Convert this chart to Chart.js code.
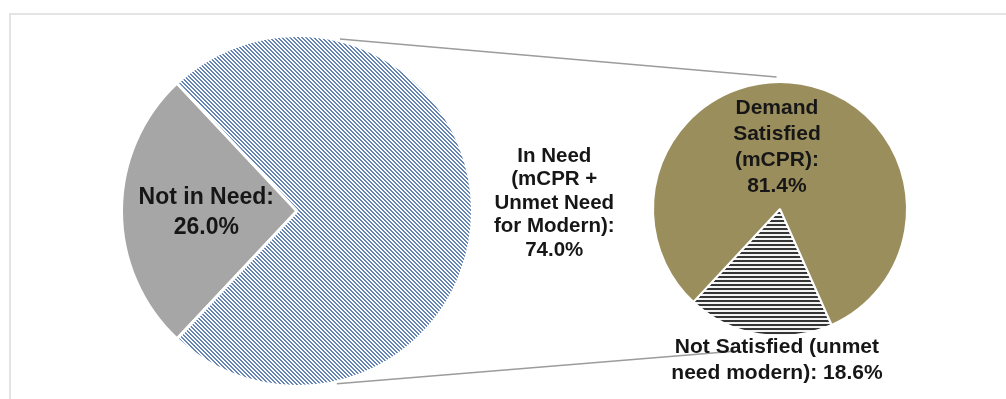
<!DOCTYPE html>
<html>
<head>
<meta charset="utf-8">
<script src="https://cdn.jsdelivr.net/npm/chart.js@4/dist/chart.umd.min.js"></script>
<style>
  html, body { margin: 0; padding: 0; background: #fff; overflow: hidden; }
  #wrap { position: relative; width: 1006px; height: 399px; overflow: hidden; }
  #frame { position: absolute; left: 9px; top: 13px; width: 1100px; height: 500px; border: 2px solid #e4e4e4; box-sizing: border-box; }
  canvas { position: absolute; left: 0; top: 0; }
</style>
</head>
<body>
<div id="wrap">
  <div id="frame"></div>
  <canvas id="bigPie" width="1006" height="399"></canvas>
  <canvas id="smallPie" width="1006" height="399"></canvas>
</div>
<script>
// ---- DATA ----
const bigCategories = ["Not in Need", "In Need (mCPR + Unmet Need for Modern)"];
const bigValues = [26.0, 74.0];
const bigLabelLines = [
  ["Not in Need:", "26.0%"],
  ["In Need", "(mCPR +", "Unmet Need", "for Modern):", "74.0%"]
];
const smallCategories = ["Not Satisfied (unmet need modern)", "Demand Satisfied (mCPR)"];
const smallValues = [18.6, 81.4];
const smallLabelLines = [
  ["Not Satisfied (unmet", "need modern): 18.6%"],
  ["Demand", "Satisfied", "(mCPR):", "81.4%"]
];

// ---- PATTERNS ----
function diagPattern(color) {
  const c = document.createElement('canvas');
  c.width = 4; c.height = 4;
  const x = c.getContext('2d');
  x.fillStyle = '#ffffff'; x.fillRect(0, 0, 4, 4);
  x.fillStyle = color;
  for (let i = 0; i < 4; i++) {
    for (let j = 0; j < 4; j++) {
      const m = ((i - j) % 4 + 4) % 4;
      if (m === 0 || m === 1) x.fillRect(i, j, 1, 1);
    }
  }
  return x.createPattern(c, 'repeat');
}
function horizPattern(color) {
  const c = document.createElement('canvas');
  c.width = 4; c.height = 4;
  const x = c.getContext('2d');
  x.fillStyle = '#f4f4f4'; x.fillRect(0, 0, 4, 4);
  x.fillStyle = color; x.fillRect(0, 0, 4, 2);
  return x.createPattern(c, 'repeat');
}

const FONT = '"Liberation Sans", Arial, sans-serif';
const TEXT_COLOR = '#161616';

function labelPlugin(id, linesArr, place) {
  return {
    id: id,
    afterDatasetsDraw(chart) {
      const arc = chart.getDatasetMeta(0).data[0];
      if (!arc) return;
      const ctx = chart.ctx;
      const cx = arc.x, cy = arc.y, r = arc.outerRadius;
      ctx.save();
      ctx.fillStyle = TEXT_COLOR;
      ctx.textAlign = 'center';
      ctx.textBaseline = 'middle';
      linesArr.forEach((lines, i) => {
        const p = place[i];
        ctx.font = 'bold ' + p.size + 'px ' + FONT;
        const x0 = cx + p.dx * r;
        const y0 = cy + p.dy * r - (lines.length - 1) * p.lh / 2;
        lines.forEach((t, k) => ctx.fillText(t, x0, y0 + k * p.lh));
      });
      ctx.restore();
    }
  };
}

function pt(cx, cy, r, deg) {
  const a = (deg - 90) * Math.PI / 180;
  return { x: cx + r * Math.cos(a), y: cy + r * Math.sin(a) };
}

const connectorPlugin = {
  id: 'connectors',
  beforeDatasetsDraw(chart) {
    const big = Chart.getChart('bigPie');
    if (!big) return;
    const b = big.getDatasetMeta(0).data[0];
    const s = chart.getDatasetMeta(0).data[0];
    const ctx = chart.ctx;
    const segs = [
      [pt(b.x, b.y, b.outerRadius * 1.01, 14), pt(s.x, s.y, s.outerRadius * 1.04, -1.5)],
      [pt(b.x, b.y, b.outerRadius * 1.01, 167), pt(s.x, s.y, s.outerRadius * 1.16, 195.7)]
    ];
    ctx.save();
    ctx.strokeStyle = '#9c9c9c';
    ctx.lineWidth = 1.5;
    segs.forEach(([p, q]) => {
      ctx.beginPath(); ctx.moveTo(p.x, p.y); ctx.lineTo(q.x, q.y); ctx.stroke();
    });
    ctx.restore();
  }
};

const common = {
  responsive: false,
  animation: false,
  events: [],
  plugins: { legend: { display: false }, tooltip: { enabled: false } }
};

new Chart(document.getElementById('bigPie'), {
  type: 'pie',
  data: {
    labels: bigCategories,
    datasets: [{
      data: bigValues,
      backgroundColor: ['#a6a6a6', diagPattern('#6585b6')],
      borderColor: '#ffffff',
      borderWidth: 3
    }]
  },
  options: Object.assign({}, common, {
    rotation: 223.2,
    layout: { padding: { left: 120, right: 532, top: 34, bottom: 11 } }
  }),
  plugins: [labelPlugin('bigLabels', bigLabelLines, [
    { dx: -0.517, dy: 0.01, size: 23, lh: 30 },
    { dx: 1.466, dy: -0.045, size: 20.5, lh: 23.5 }
  ])]
});

new Chart(document.getElementById('smallPie'), {
  type: 'pie',
  data: {
    labels: smallCategories,
    datasets: [{
      data: smallValues,
      backgroundColor: [horizPattern('#353535'), '#9b8e5d'],
      borderColor: '#ffffff',
      borderWidth: 2
    }]
  },
  options: Object.assign({}, common, {
    rotation: 156,
    layout: { padding: { left: 652, right: 98, top: 81, bottom: 62 } }
  }),
  plugins: [connectorPlugin, labelPlugin('smallLabels', smallLabelLines, [
    { dx: -0.024, dy: 1.19, size: 21, lh: 26 },
    { dx: -0.024, dy: -0.49, size: 21, lh: 26 }
  ])]
});
</script>
</body>
</html>
